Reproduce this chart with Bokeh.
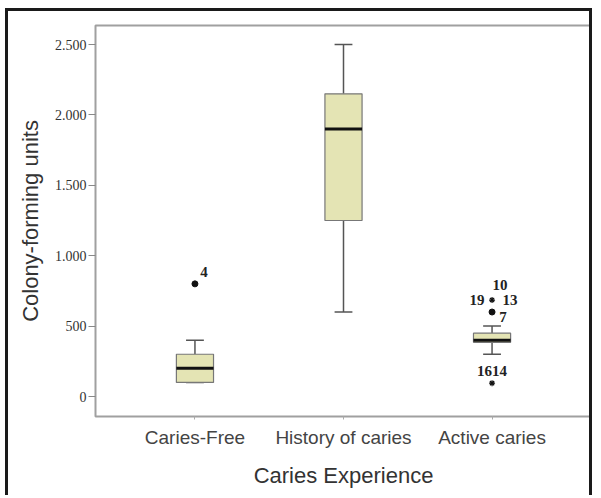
from bokeh.plotting import figure
from bokeh.models import FactorRange, FixedTicker, ColumnDataSource
from bokeh.transform import dodge
from bokeh.core.properties import value
from bokeh.embed import file_html
from bokeh.resources import INLINE

# ---- data ----
categories = ["Caries-Free", "History of caries", "Active caries"]
whisker_low = [100, 600, 300]
q1 = [100, 1250, 385]
median = [200, 1900, 400]
q3 = [300, 2150, 450]
whisker_high = [400, 2500, 500]

# outliers: circles (mild) and stars (extreme)
mild_cat = ["Caries-Free", "Active caries"]
mild_val = [800, 600]
extreme_cat = ["Active caries", "Active caries"]
extreme_val = [685, 95]

y_ticks = [0, 500, 1000, 1500, 2000, 2500]
y_tick_labels = ["0", "500", "1.000", "1.500", "2.000", "2.500"]

# outlier id labels
lab_cat = ["Caries-Free", "Active caries", "Active caries", "Active caries", "Active caries", "Active caries"]
lab_val = [800, 600, 685, 685, 685, 95]
lab_text = ["4", "7", "19", "13", "10", "1614"]
lab_dx = [9, 11, -15, 18, 8, 0]
lab_dy = [-12, 5, 0, 0, -15, -12]

p = figure(
    x_range=FactorRange(*categories, range_padding=0.113, range_padding_units="percent"),
    y_range=(-142, 2635),
    width=587, height=487,
    output_backend="svg", toolbar_location=None,
    min_border_left=87, min_border_right=4, min_border_top=14, min_border_bottom=82,
)
p.styles = {"border-left": "3px solid #1a1a1a", "border-top": "3px solid #1a1a1a",
            "border-right": "3px solid #1a1a1a", "border-bottom": "none",
            "margin-left": "5px", "margin-top": "8px"}
p.background_fill_color = "white"
p.border_fill_color = "white"
p.outline_line_color = "#a0a0a0"
p.outline_line_width = 2
p.xgrid.visible = False
p.ygrid.visible = False

src = ColumnDataSource(dict(cat=categories, lo=whisker_low, q1=q1, med=median, q3=q3, hi=whisker_high))

# whisker stems
p.segment(x0="cat", y0="q3", x1="cat", y1="hi", source=src, line_color="#555555", line_width=1.5)
p.segment(x0="cat", y0="lo", x1="cat", y1="q1", source=src, line_color="#555555", line_width=1.5)
# caps
p.segment(x0=dodge("cat", -0.06, range=p.x_range), y0="hi", x1=dodge("cat", 0.06, range=p.x_range), y1="hi",
          source=src, line_color="#555555", line_width=1.5)
p.segment(x0=dodge("cat", -0.06, range=p.x_range), y0="lo", x1=dodge("cat", 0.06, range=p.x_range), y1="lo",
          source=src, line_color="#555555", line_width=1.5)
# boxes
p.vbar(x="cat", bottom="q1", top="q3", width=0.25, source=src,
       fill_color="#e4e4b4", line_color="#777777", line_width=1.2)
# medians
p.rect(x="cat", y="med", width=0.25, height=3, height_units="screen", source=src,
       fill_color="#111111", line_color=None)

# outliers
p.scatter(x=mild_cat, y=mild_val, size=6, color="#111111")
p.scatter(x=extreme_cat, y=extreme_val, marker="asterisk", size=6, line_color="#111111", line_width=1.2)

p.text(x=lab_cat, y=lab_val, text=lab_text, x_offset=lab_dx, y_offset=lab_dy,
       text_align="center", text_baseline="middle",
       text_font=value("Liberation Serif"), text_font_style="bold", text_font_size="15px", text_color="#222222")

# axes
p.yaxis.ticker = FixedTicker(ticks=y_ticks)
p.yaxis.major_label_overrides = {t: l for t, l in zip(y_ticks, y_tick_labels)}
p.yaxis.minor_tick_line_color = None
p.yaxis.axis_line_color = None
p.yaxis.major_tick_line_color = "#888888"
p.yaxis.major_tick_out = 7
p.yaxis.major_tick_in = 0
p.yaxis.major_label_standoff = 2
p.yaxis.major_label_text_font = "Liberation Serif"
p.yaxis.major_label_text_font_size = "14px"
p.yaxis.major_label_text_color = "#333333"
p.yaxis.axis_label = "Colony-forming units"
p.yaxis.axis_label_text_font = "Liberation Sans"
p.yaxis.axis_label_text_font_style = "normal"
p.yaxis.axis_label_text_font_size = "22px"
p.yaxis.axis_label_text_color = "#333333"
p.yaxis.axis_label_standoff = 9

p.xaxis.axis_line_color = None
p.xaxis.major_tick_line_color = "#aaaaaa"
p.xaxis.major_tick_out = 3
p.xaxis.major_tick_in = 0
p.xaxis.major_label_standoff = 7
p.xaxis.major_label_text_font = "Liberation Sans"
p.xaxis.major_label_text_font_size = "19px"
p.xaxis.major_label_text_color = "#444444"
p.xaxis.axis_label = "Caries Experience"
p.xaxis.axis_label_text_font = "Liberation Sans"
p.xaxis.axis_label_text_font_style = "normal"
p.xaxis.axis_label_text_font_size = "22px"
p.xaxis.axis_label_text_color = "#333333"
p.xaxis.axis_label_standoff = 12

open("out.html", "w").write(file_html(p, INLINE))
